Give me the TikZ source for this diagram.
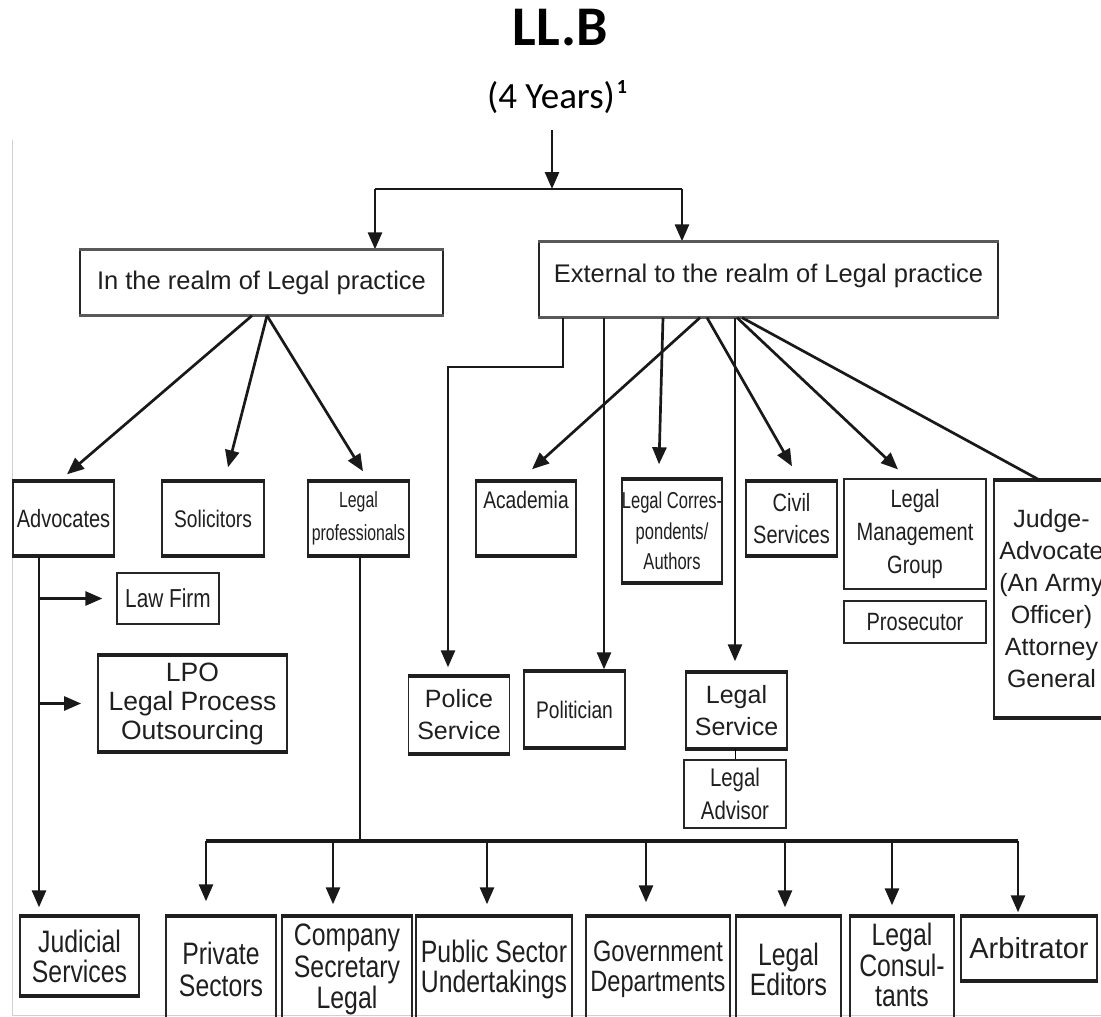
\documentclass[tikz,border=0pt]{standalone}
\usepackage{fontspec}
\setmainfont{Liberation Sans}
\newfontfamily\narrowfont[FakeStretch=0.8]{Liberation Sans}
\newfontfamily\narrowerfont[FakeStretch=0.72]{Liberation Sans}
\newfontfamily\titlefont{Carlito}
\usetikzlibrary{arrows.meta,calc}
\newcommand\nf[2]{\narrowfont\fontsize{#1}{#2}\selectfont}
\newcommand\nnf[2]{\narrowerfont\fontsize{#1}{#2}\selectfont}
\newcommand\rf[2]{\fontsize{#1}{#2}\selectfont}
\tikzset{
  box/.style={draw=black!85, line width=1.4pt, inner sep=0pt, align=center, text=black!88},
  tb/.style={box},
  pb/.style={box, line width=1.2pt},
  mainbox/.style={box, line width=1.3pt},
  edgeTB/.style={line width=3.8pt, draw=black!88},
  edgeMain/.style={line width=2.4pt, draw=black!65},
  wh/.style 2 args={minimum width=#1pt, minimum height=#2pt},
  conn/.style={line width=2.7pt, draw=black!90},
  arr/.style={conn, -{Triangle[length=17pt,width=14pt]}},
  bar/.style={line width=3.8pt, draw=black!90},
}
\begin{document}
\begin{tikzpicture}[x=1pt, y=-1pt]
\useasboundingbox (0,0) rectangle (1101,1017);
\clip (0,0) rectangle (1101,1017);
\fill[white] (0,0) rectangle (1101,1017);
% faint frame of the inner picture
\draw[black!18, line width=1pt] (12,140) -- (12,1015) -- (1101,1015);

% title
\node[font=\titlefont\bfseries\fontsize{56}{60}\selectfont, inner sep=0pt] (llb) at (560,28) {LL.B};
\node[font=\titlefont\fontsize{37}{40}\selectfont, inner sep=0pt] (yrs) at (551,98) {(4 Years)};
\node[font=\titlefont\bfseries\fontsize{20}{22}\selectfont, inner sep=0pt] (fn) at (622,87) {1};

% level 1
\node[mainbox, wh={363}{65}, font=\rf{25.5}{30}] (realm) at (261.5,282.5) {In the realm of Legal practice};
\node[mainbox, wh={459}{75}, font=\rf{25.5}{30}] (ext) at (768.5,279.5) {\raisebox{13pt}{External to the realm of Legal practice}};

\coordinate (yb) at (552,130);
\coordinate (split) at (552,189);
\coordinate (cL) at (375,189);
\coordinate (cR) at (682,189);
\draw[arr] (yb) -- (split);
\draw[conn] (cL) -- (cR);
\draw[arr] (cL) -- (cL |- realm.north);
\draw[arr] (cR) -- (cR |- ext.north);

% level 2 left
\node[tb, wh={101}{73}, font=\nf{25}{30}] (adv) at (63.5,518.5) {Advocates};
\node[tb, wh={102}{73}, font=\nf{24}{30}] (sol) at (213,518.5) {Solicitors};
\node[tb, wh={101}{73}, font=\nnf{22}{33}] (lprof) at (358.5,518.5) {Legal\\professionals};

% level 2 right
\node[tb, wh={100}{73}, font=\nf{24}{30}] (acad) at (526,518.5) {\raisebox{37pt}{Academia}};
\node[tb, wh={100}{102}, font=\nnf{23}{30.5}] (corr) at (672,531) {Legal Corres-\\pondents/\\Authors};
\node[tb, wh={91}{73}, font=\nf{25}{32}] (civil) at (791.5,518.5) {Civil\\Services};
\node[pb, wh={142}{110}, font=\nf{25}{33}] (lmg) at (915,534) {Legal\\Management\\Group};
\node[pb, wh={142}{42}, font=\nf{25}{30}] (pros) at (915,622) {Prosecutor};
\node[tb, wh={115}{236}, font=\rf{25}{32}] (judge) at (1051.5,599) {Judge-\\Advocate\\(An Army\\Officer)\\Attorney\\General};

% middle
\node[pb, wh={102}{51}, font=\nf{26}{30}] (lawfirm) at (168,598.5) {Law Firm};
\node[tb, wh={189}{95}, font=\rf{26.5}{29}, line width=1.8pt] (lpo) at (192.5,703.5) {LPO\\Legal Process\\Outsourcing};
\node[tb, wh={101.5}{76}, font=\rf{25}{32}] (police) at (459,715) {Police\\Service};
\node[tb, wh={101}{75}, font=\nf{24}{30}] (polit) at (574.5,709.5) {Politician};
\node[tb, wh={101}{75}, font=\rf{25}{32}] (lserv) at (736.5,710.5) {Legal\\Service};
\node[pb, wh={102}{68}, font=\nf{25.5}{33}] (ladv) at (735,794) {Legal\\Advisor};

% bottom row
\node[tb, wh={119}{78}, font=\nf{31}{30}] (jud) at (79.5,956) {Judicial\\Services};
\node[tb, wh={110}{105}, font=\nf{31}{32}] (priv) at (221,969.5) {Private\\Sectors};
\node[tb, wh={130}{105}, font=\nf{31}{31.5}] (comp) at (347,969.5) {Company\\Secretary\\Legal};
\node[tb, wh={156}{105}, font=\nf{31}{30}] (pub) at (494,969.5) {Public Sector\\Undertakings};
\node[tb, wh={144}{105}, font=\nf{29.5}{30}] (gov) at (658,969.5) {Government\\Departments};
\node[tb, wh={105}{105}, font=\nf{31}{30}] (edit) at (788.5,969.5) {Legal\\Editors};
\node[tb, wh={104}{105}, font=\nf{31}{31}] (cons) at (902,969.5) {\raisebox{4pt}{\begin{tabular}{@{}c@{}}Legal\\[-0.5pt]Consul-\\[-0.5pt]tants\end{tabular}}};
\node[tb, wh={136}{63}, font=\rf{29}{32}] (arb) at (1029,948.5) {Arbitrator};

% heavy top and bottom edges of the boxes
\foreach \n in {adv, sol, lprof, acad, corr, civil, judge, lpo, police, polit, lserv,
                jud, priv, comp, pub, gov, edit, cons, arb}{
  \draw[edgeTB] (\n.north west) -- (\n.north east);
  \draw[edgeTB] (\n.south west) -- (\n.south east);
}
\foreach \n in {realm, ext}{
  \draw[edgeMain] (\n.north west) -- (\n.north east);
  \draw[edgeMain] (\n.south west) -- (\n.south east);
}

% connectors from "In the realm"
\draw[arr] ([xshift=-9.5pt]realm.south) -- ([xshift=3.5pt,yshift=7pt]adv.north);
\draw[arr] ([xshift=5.5pt]realm.south) -- ([xshift=15pt,yshift=14pt]sol.north);
\draw[arr] ([xshift=5.5pt]realm.south) -- ([xshift=4.5pt,yshift=10pt]lprof.north);

% connectors from "External"
\coordinate (pbend) at (448,367);
\draw[arr] ([xshift=-205.5pt]ext.south) |- (pbend) -- ([xshift=-11pt,yshift=9pt]police.north);
\draw[arr] ([xshift=-164.5pt]ext.south) -- ([xshift=29.5pt,yshift=2pt]polit.north);
\draw[arr] ([xshift=-105.5pt]ext.south) -- ([xshift=-13pt,yshift=15pt]corr.north);
\draw[arr] ([xshift=-68.5pt]ext.south) -- ([xshift=6pt,yshift=12pt]acad.north);
\draw[arr] ([xshift=-61.5pt]ext.south) -- ([xshift=0.5pt,yshift=15pt]civil.north);
\draw[arr] ([xshift=-33.5pt]ext.south) -- ([xshift=-1.5pt,yshift=11pt]lserv.north);
\draw[arr] ([xshift=-31.5pt]ext.south) -- ([xshift=-17pt,yshift=9pt]lmg.north);
\draw[conn] ([xshift=-26.5pt]ext.south) -- ([xshift=-11.5pt]judge.north);
\draw[line width=1pt] (ladv.north |- lserv.south) -- (ladv.north);

% Advocates branch
\coordinate (advB) at ([xshift=-24.5pt]adv.south);
\draw[arr] (advB) -- ([xshift=-40.5pt,yshift=9pt]jud.north);
\draw[arr] (advB |- lawfirm.west) -- ([xshift=-14pt]lawfirm.west);
\draw[arr] (advB |- lpo.west) -- ([xshift=-16pt]lpo.west);

% Legal professionals branch
\coordinate (lpB) at ([xshift=1.5pt]lprof.south);
\coordinate (barL) at (206,841);
\coordinate (barR) at (1018,841);
\draw[conn] (lpB) -- (lpB |- barL);
\draw[bar] (barL) -- (barR);
\foreach \n/\dx/\dy in {priv/-15/15, comp/-14/12, pub/-7/12, gov/-12/14, edit/-3.5/9, cons/-10/11, arb/-11/4}{
  \coordinate (t\n) at ([xshift=\dx pt,yshift=\dy pt]\n.north);
  \draw[arr] (t\n |- barL) -- (t\n);
}
\end{tikzpicture}
\end{document}
